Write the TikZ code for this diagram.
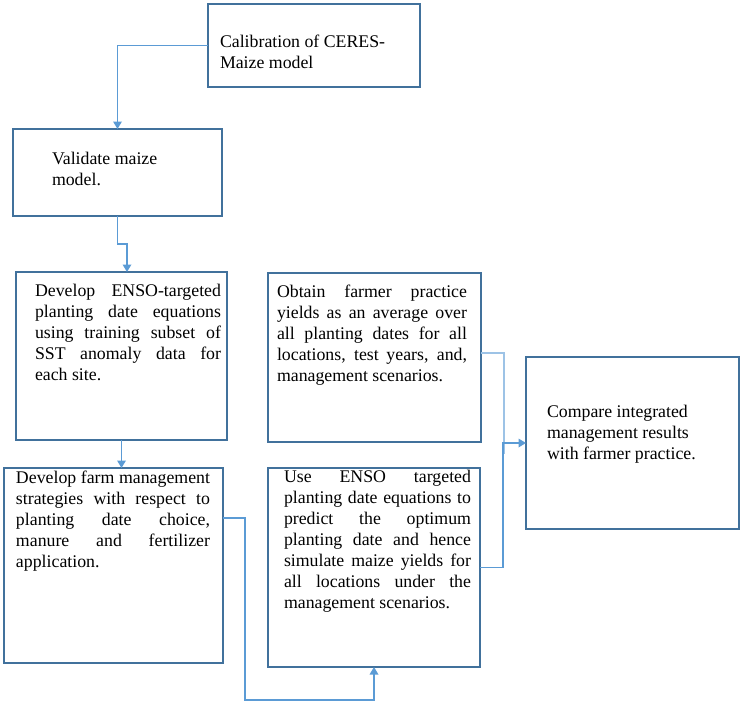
\documentclass[tikz,border=0pt]{standalone}
\usepackage{fontspec}
\setmainfont{Liberation Serif}
\usetikzlibrary{arrows.meta,positioning,calc}
\definecolor{boxblue}{HTML}{41719C}
\definecolor{lineblue}{HTML}{5B9BD5}
\definecolor{lightblue}{HTML}{9DC3E6}
\begin{document}
\begin{tikzpicture}[x=1pt,y=1pt,
  box/.style={draw=boxblue,line width=1.8pt,rectangle,inner sep=0pt,outer sep=0pt,anchor=north west},
  txt/.style={inner sep=0pt,outer sep=0pt,anchor=north west,text=black,
     font=\fontsize{17.8}{21}\selectfont},
  jtxt/.style={txt,align=justify},
  ltxt/.style={txt,align=left},
  conn/.style={draw=lineblue,line width=1.7pt,-{Triangle[width=8.5pt,length=7.5pt]}},
  lightconn/.style={draw=lightblue,line width=1.2pt}]
\useasboundingbox (0,0) rectangle (743,-705);
% boxes
\node[box,minimum width=212pt,minimum height=83pt] (b1) at (208,-4) {};
\node[box,minimum width=209pt,minimum height=87pt] (b2) at (13,-129) {};
\node[box,minimum width=211pt,minimum height=168pt] (b3) at (16,-272) {};
\node[box,minimum width=219pt,minimum height=195pt] (b4) at (4,-468) {};
\node[box,minimum width=212pt,minimum height=199pt] (b5) at (268,-468) {};
\node[box,minimum width=213pt,minimum height=169pt] (b6) at (268,-273) {};
\node[box,minimum width=213pt,minimum height=172pt] (b7) at (526,-357) {};
% texts
\node[ltxt] (t1) at (220,-32.3) {\strut Calibration of CERES-\\Maize model};
\node[ltxt] (t2) at (52,-149.3) {\strut Validate maize\\model.};
\node[jtxt,text width=186pt] (t3) at (35,-281.3) {\hyphenpenalty=10000\exhyphenpenalty=10000\tolerance=10000\strut
Develop ENSO-targeted\linebreak planting date equations\linebreak using training subset of\linebreak SST anomaly data for\linebreak each site.};
\node[jtxt,text width=194pt] (t4) at (16,-468.3) {\hyphenpenalty=10000\exhyphenpenalty=10000\tolerance=10000\strut
Develop farm management\linebreak strategies with respect to\linebreak planting date choice,\linebreak manure and fertilizer\linebreak application.};
\node[jtxt,text width=187pt] (t5) at (284,-467.3) {\hyphenpenalty=10000\exhyphenpenalty=10000\tolerance=10000\strut
Use ENSO targeted\linebreak planting date equations to\linebreak predict the optimum\linebreak planting date and hence\linebreak simulate maize yields for\linebreak all locations under the\linebreak management scenarios.};
\node[jtxt,text width=190pt] (t6) at (277,-282.3) {\hyphenpenalty=10000\exhyphenpenalty=10000\tolerance=10000\strut
Obtain farmer practice\linebreak yields as an average over\linebreak all planting dates for all\linebreak locations, test years, and,\linebreak management scenarios.};
\node[ltxt] (t7) at (547,-402.3) {\strut Compare integrated\\management results\\with farmer practice.};
% connectors
\draw[conn] (b1.west) -| (b2.north);
\draw[conn] (b2.south) -- ++(0,-28pt) -| ([xshift=5.5pt]b3.north);
\draw[conn] (b3.south) -- (b3.south |- b4.north);
\draw[conn] ([yshift=47.5pt]b4.east) -- ++(22pt,0) |- ([yshift=-33pt]b5.south) -- (b5.south);
\coordinate (lend) at (504,-454);
\draw[lightconn] ([yshift=4.5pt]b6.east) -| (lend);
\coordinate (m) at (503,-443);
\draw[conn] (b5.east) -| (m) -- (b7.west);
\end{tikzpicture}
\end{document}
